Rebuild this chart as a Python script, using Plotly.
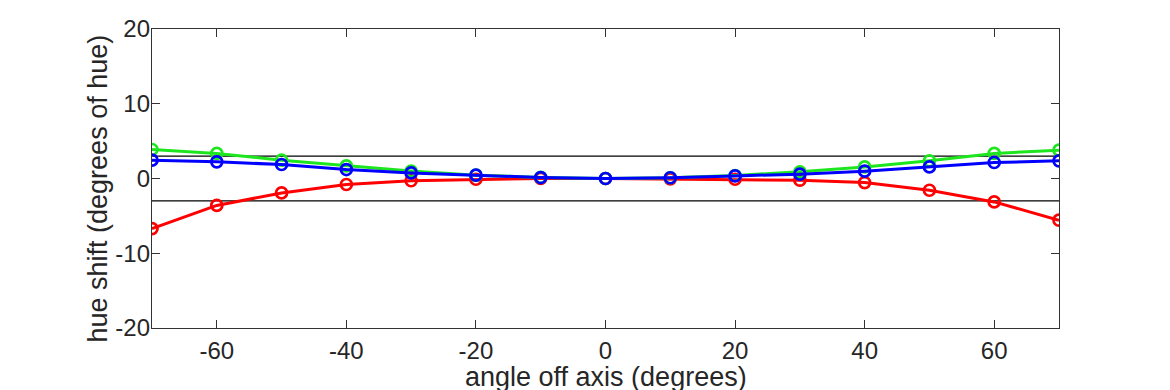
import plotly.graph_objects as go

angles = [-70, -60, -50, -40, -30, -20, -10, 0, 10, 20, 30, 40, 50, 60, 70]
red = [-6.7, -3.6, -1.93, -0.8, -0.3, -0.1, 0.0, 0.0, -0.05, -0.1, -0.23, -0.54, -1.57, -3.13, -5.58]
green = [3.88, 3.35, 2.45, 1.69, 1.0, 0.45, 0.15, 0.0, 0.1, 0.4, 0.89, 1.55, 2.36, 3.35, 3.79]
blue = [2.45, 2.23, 1.87, 1.2, 0.75, 0.45, 0.13, 0.0, 0.1, 0.35, 0.58, 0.98, 1.55, 2.14, 2.36]
limit = 3
x_ticks = [-60, -40, -20, 0, 20, 40, 60]
x_ticktext = ["-60", "-40", "-20", "0", "20", "40", "60"]
y_ticks = [-20, -10, 0, 10, 20]
y_ticktext = ["-20", "-10", "0", "10", "20"]
x_title = "angle off axis (degrees)"
y_title = "hue shift (degrees of hue)"

FONT = "Liberation Sans, Arial, Helvetica"
TXT = "#262626"

fig = go.Figure()
for s in (limit, -limit):
    fig.add_trace(go.Scatter(x=[angles[0], angles[-1]], y=[s, s], mode="lines",
                             line=dict(color="black", width=1.3), hoverinfo="skip"))
for vals, col in ((red, "#ff0000"), (green, "#1ee61e"), (blue, "#0000ff")):
    fig.add_trace(go.Scatter(x=angles, y=vals, mode="lines+markers",
                             line=dict(color=col, width=3),
                             marker=dict(symbol="circle-open", size=11, color=col,
                                         line=dict(width=2.7, color=col))))

axis_common = dict(showline=True, mirror="ticks", linecolor="#333333", linewidth=1.3,
                   ticks="inside", ticklen=8, tickwidth=1.3, tickcolor="#333333",
                   showgrid=False, zeroline=False, automargin=False,
                   tickfont=dict(family=FONT, size=24, color=TXT))

fig.update_layout(
    width=1170, height=390, showlegend=False,
    paper_bgcolor="white", plot_bgcolor="white",
    margin=dict(l=144, r=119, t=21, b=70),
    xaxis=dict(range=[-70, 70], tickvals=x_ticks, ticktext=x_ticktext,
               ticklabelstandoff=1, **axis_common),
    yaxis=dict(range=[-20, 20], tickvals=y_ticks, ticktext=y_ticktext,
               ticklabelstandoff=-4, **axis_common),
    annotations=[
        dict(text=x_title, xref="paper", yref="paper", x=0.5, y=0,
             xanchor="center", yanchor="middle", yshift=-49, showarrow=False,
             font=dict(family=FONT, size=27, color=TXT)),
        dict(text=y_title, xref="paper", yref="paper", x=0, y=0.5,
             xanchor="center", yanchor="middle", xshift=-55, yshift=-10,
             textangle=-90, showarrow=False,
             font=dict(family=FONT, size=27, color=TXT)),
    ],
)
fig.write_html("out.html")
